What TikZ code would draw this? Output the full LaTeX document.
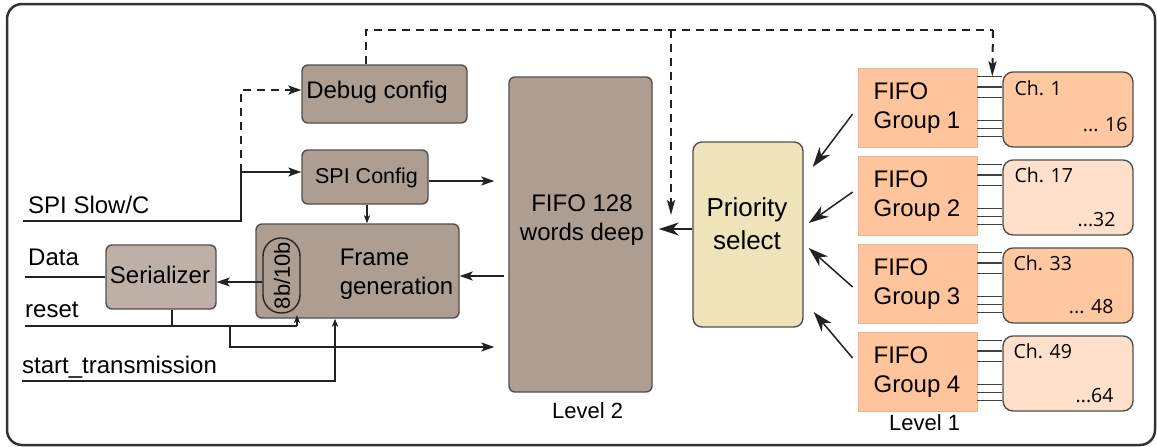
\documentclass[tikz,border=0pt]{standalone}
\usepackage{fontspec}
\setmainfont{Liberation Sans}
\newfontfamily\chfont{Open Sans}
\usetikzlibrary{arrows.meta,calc}
\definecolor{brownbox}{HTML}{AD9E91}
\definecolor{serbox}{HTML}{BEB0A6}
\definecolor{priobox}{HTML}{EFE3BA}
\definecolor{grpfill}{HTML}{FFC49B}
\definecolor{grpline}{HTML}{EDB48C}
\definecolor{chdark}{HTML}{FFC8A0}
\definecolor{chlight}{HTML}{FFE0CB}
\definecolor{boxline}{HTML}{505050}
\definecolor{wire}{HTML}{222222}
\tikzset{
  blk/.style={draw=boxline, line width=1.4pt, rounded corners=6pt, inner sep=0pt},
  txt/.style={inner sep=0pt, align=center, font=\fontsize{24}{29}\selectfont},
  lbl/.style={inner sep=0pt, font=\fontsize{24}{29}\selectfont},
  chtxt/.style={inner sep=0pt, font=\chfont\fontsize{19.5}{23}\selectfont},
  wmain/.style={draw=wire, line width=2pt},
  wthin/.style={draw=wire, line width=1.5pt},
  dline/.style={draw=wire, line width=2pt, dash pattern=on 8pt off 6pt},
  sarr/.style={-{Stealth[length=13pt,width=9pt,inset=3pt]}},
  tarr/.style={-{Stealth[length=8pt,width=6pt,inset=2pt]}},
  barr/.style={-{Stealth[length=20pt,width=13pt,inset=6pt]}},
  bundle/.style={draw=black!75, line width=1.5pt},
}
\begin{document}
\begin{tikzpicture}[x=1pt,y=-1pt]
\useasboundingbox (0,0) rectangle (1157,447);
% outer frame
\draw[draw=black!80, line width=2.5pt, rounded corners=15pt] (7,4) rectangle (1155,445);

% blocks
\node[blk, fill=brownbox, minimum width=165pt, minimum height=58pt] (debug) at (384.5,94) {};
\node[txt] (debugt) at (377,92.5) {Debug config};
\node[blk, fill=brownbox, minimum width=126pt, minimum height=54pt] (spi) at (365,177) {};
\node[txt, font=\fontsize{21.5}{26}\selectfont] (spit) at (366.5,178) {SPI Config};
\node[blk, fill=brownbox, minimum width=203pt, minimum height=94pt] (frame) at (357.5,271) {};
\node[txt, align=left] (framet) at (396.5,274.5) {Frame\\generation};
\node[draw=black!85, line width=1.4pt, fill=brownbox, rounded corners=18pt, minimum width=37pt, minimum height=75pt, inner sep=0pt] (pill) at (281.5,275.5) {};
\node[txt, rotate=90, font=\fontsize{22}{26}\selectfont] (pillt) at (282,275.5) {8b/10b};
\node[blk, fill=serbox, minimum width=110pt, minimum height=64pt] (ser) at (161,277) {};
\node[txt] (sert) at (160,275) {Serializer};
\node[blk, fill=brownbox, minimum width=143pt, minimum height=315pt] (fifo) at (580.5,234.5) {};
\node[txt] (fifot) at (582,220.5) {FIFO 128\\words deep};
\node[lbl, anchor=base west, font=\fontsize{22}{26}\selectfont] (lev2) at (552,418) {Level 2};
\node[blk, fill=priobox, rounded corners=9pt, minimum width=110pt, minimum height=185pt] (prio) at (748,234.5) {};
\node[txt, font=\fontsize{26}{33}\selectfont] (priot) at (747,224) {Priority\\select};

% FIFO groups and channel boxes
\foreach \k/\cf in {1/chdark,2/chlight,3/chdark,4/chlight}{
  \node[draw=grpline, line width=0.8pt, fill=grpfill, inner sep=0pt, minimum width=119pt, minimum height=79pt] (g\k) at (917.5,{107.5+88*(\k-1)}) {};
  \node[txt, align=left] (g\k t) at (917,{108+88*(\k-1)}) {FIFO\\Group \k};
  \node[blk, fill=\cf, rounded corners=10pt, minimum width=130pt, minimum height=75pt] (c\k) at (1068,{109.5+88*(\k-1)}) {};
  \foreach \d in {5,15.5,26,49,57,65}{
    \path ($(c\k.north west)+(0,\d)$) coordinate (p);
    \draw[bundle] (p -| g\k.east) -- (p);
  }
}
\node[chtxt, anchor=base west] (c1a) at ($(c1.north west)+(12,24)$) {Ch. 1};
\node[chtxt, anchor=base west] (c2a) at ($(c2.north west)+(12,23.5)$) {Ch. 17};
\node[chtxt, anchor=base west] (c3a) at ($(c3.north west)+(11,23.5)$) {Ch. 33};
\node[chtxt, anchor=base west] (c4a) at ($(c4.north west)+(11,23.5)$) {Ch. 49};
\node[chtxt, anchor=base east] (c1b) at ($(c1.north east)+(-6,60)$) {... 16};
\node[chtxt, anchor=base east] (c2b) at ($(c2.north east)+(-18,67)$) {...32};
\node[chtxt, anchor=base east] (c3b) at ($(c3.north east)+(-20,66)$) {... 48};
\node[chtxt, anchor=base east] (c4b) at ($(c4.north east)+(-20,67)$) {...64};
\node[lbl, anchor=base west, font=\fontsize{22}{26}\selectfont] (lev1) at (889,430) {Level 1};

% left labels
\node[lbl, anchor=base west] (spislow) at (28,213) {SPI Slow/C};
\node[lbl, anchor=base west] (datal) at (28,265) {Data};
\node[lbl, anchor=base west] (resetl) at (25,317) {reset};
\node[lbl, anchor=base west] (startl) at (22,373) {start\_transmission};

% coordinates
\coordinate (spiin) at (23,221);
\coordinate (j1) at (241,172);
\coordinate (dtop) at (366,30);
\coordinate (dmid) at (671,30);
\coordinate (dright) at (993,30);
\coordinate (dend) at (671,215);
\coordinate (datain) at (25,277);
\coordinate (rin) at (25,326);
\coordinate (rj) at (297,326);
\coordinate (rj2) at (230,326);
\coordinate (rk) at (230,347);
\coordinate (sin) at (22,381);
\coordinate (sj) at (335,381);

% SPI input
\draw[wmain] (spiin) -- (spiin -| j1) -- (j1);
\draw[wthin, sarr] (j1) -- (j1 -| spi.west);
\draw[dline, sarr] (j1) -- ($(j1 |- debug.west)+(0,-4)$) -- ($(debug.west)+(0,-4)$);
% debug dashed bus
\draw[dline] (debug.north -| dtop) -- (dtop) -- (dright);
\draw[dline, -{Stealth[length=15pt,width=8pt,inset=3pt]}] (dright) -- ($(c1.north west)+(-10,5)$);
\draw[dline, -{Stealth[length=15pt,width=8pt,inset=3pt]}] (dmid) -- (dend);
% SPI config outputs
\path ($(spi.east)+(0,4)$) coordinate (s1);
\draw[wmain, sarr, shorten >=14pt] (s1) -- (s1 -| fifo.west);
\draw[wthin, tarr] ($(spi.south)+(2,0)$) -- ($(spi.south |- frame.north)+(2,0)$);
% FIFO -> frame
\path ($(fifo.west)+(-4,41.5)$) coordinate (ff);
\draw[wthin, sarr] (ff) -- (ff -| frame.east);
% frame -> serializer
\path ($(pill.west)+(0,6.5)$) coordinate (pa);
\draw[wthin, sarr] (pa) -- (pa -| ser.east);
% Data
\draw[wmain] (datain) -- (datain -| ser.west);
% reset
\draw[wthin] (rin) -- (rj);
\draw[wthin, tarr] (rj) -- ($(rj)+(0,-11)$);
\draw[wthin] ($(ser.south)+(11,0)$) -- ($(ser.south)+(11,17)$);
\draw[wthin, sarr, shorten >=14pt] (rj2) -- (rk) -- (rk -| fifo.west);
% start_transmission
\draw[wthin, tarr] (sin) -- (sj) -- (sj |- frame.south);
% priority -> FIFO
\draw[wthin, barr] ($(prio.west)+(0,-5.5)$) -- ($(fifo.east)+(6,-5.5)$);
% groups -> priority
\draw[wthin, barr] ($(g1.west)+(-5,6.5)$) -- ($(prio.east)+(9,-67.5)$);
\draw[wthin, barr] ($(g2.west)+(-5,-3.5)$) -- ($(prio.east)+(5,-11.5)$);
\draw[wthin, barr] ($(g3.west)+(-5,3.5)$) -- ($(prio.east)+(5,13.5)$);
\draw[wthin, barr] ($(g4.west)+(-5,-13.5)$) -- ($(prio.east)+(10,77.5)$);
\end{tikzpicture}
\end{document}
